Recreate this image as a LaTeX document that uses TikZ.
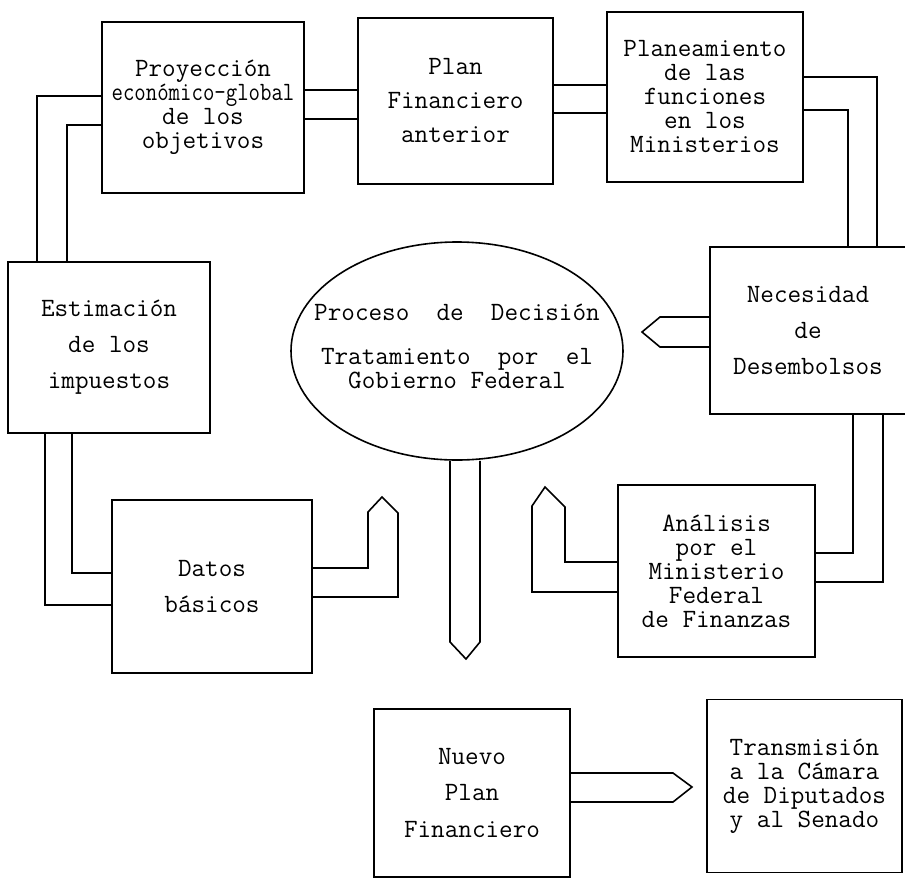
\documentclass[tikz,border=0pt]{standalone}
\usepackage{fontspec}
\usetikzlibrary{shapes.geometric}

\begin{document}
\begin{tikzpicture}[x=0.5pt,y=-0.5pt,thick,font=\ttfamily\fontsize{13.2}{12}\selectfont]
  \tikzstyle{box}=[draw,rectangle,inner sep=0pt,align=center]
  \tikzstyle{blob}=[draw,ellipse,inner sep=0pt]
  \useasboundingbox (0,0) rectangle (905,879);

  \node[box,minimum width=101pt,minimum height=85.5pt] (proy)   at (203,107.5) {Proyección\\\scalebox{.84}[1]{económico-global}\\de los\\objetivos};
  \node[box,minimum width=97.5pt,minimum height=83pt]  (plan)   at (455.5,101) {Plan\\[5pt]Financiero\\[5pt]anterior};
  \node[box,minimum width=98pt,minimum height=85pt]    (planea) at (705,97)    {Planeamiento\\de las\\funciones\\en los\\Ministerios};
  \node[box,minimum width=101pt,minimum height=85.5pt] (estim)  at (109,347.5) {Estimación\\[6pt]de los\\[6pt]impuestos};
  \node[box,minimum width=100pt,minimum height=86.5pt] (datos)  at (212,586.5) {Datos\\[6pt]básicos};
  \node[box,minimum width=98pt,minimum height=83.5pt]  (neces)  at (808,330.5) {Necesidad\\[6pt]de\\[6pt]Desembolsos};
  \node[box,minimum width=98.5pt,minimum height=86pt]  (anal)   at (716.5,571) {Análisis\\por el\\Ministerio\\Federal\\de Finanzas};
  \node[box,minimum width=98pt,minimum height=84pt]    (nuevo)  at (472,793)   {Nuevo\\[6pt]Plan\\[6pt]Financiero};
  \node[box,minimum width=97.5pt,minimum height=86.5pt] (transm) at (804.5,786) {Transmisión\\a la Cámara\\de Diputados\\y al Senado};
  \node[blob,minimum width=166pt,minimum height=109pt] (dec)    at (457,351)   {};
  \node[align=center,inner sep=0pt] (dectext) at (457,346) {Proceso~~de~~Decisión\\[10pt]Tratamiento~~por~~el\\Gobierno Federal};

  % double lines between the boxes
  \draw (proy.east |- 0,90)  -- (plan.west |- 0,90);
  \draw (proy.east |- 0,119) -- (plan.west |- 0,119);
  \draw (plan.east |- 0,85)  -- (planea.west |- 0,85);
  \draw (plan.east |- 0,113) -- (planea.west |- 0,113);
  \draw (planea.east |- 0,77)  -- (877,77)  -- (neces.north -| 877,0);
  \draw (planea.east |- 0,110) -- (848,110) -- (neces.north -| 848,0);
  \draw (proy.west |- 0,96)  -- (37,96)  -- (estim.north -| 37,0);
  \draw (proy.west |- 0,125) -- (67,125) -- (estim.north -| 67,0);
  \draw (estim.south -| 45,0) -- (45,605) -- (datos.west |- 0,605);
  \draw (estim.south -| 72,0) -- (72,573) -- (datos.west |- 0,573);
  \draw (neces.south -| 853,0) -- (853,553) -- (anal.east |- 0,553);
  \draw (neces.south -| 883,0) -- (883,582) -- (anal.east |- 0,582);

  % pipes with a pointed end
  \draw (datos.east |- 0,568) -- (368,568) -- (368,512) -- (382,497) -- (398,513) -- (398,597) -- (datos.east |- 0,597);
  \draw (anal.west |- 0,562) -- (565,562) -- (565,507) -- (545,487) -- (532,506) -- (532,592) -- (anal.west |- 0,592);
  \draw (neces.west |- 0,317) -- (660,317) -- (642,332) -- (660,347) -- (neces.west |- 0,347);
  \draw (dec.south -| 450,0) -- (450,642) -- (466,659) -- (480,642) -- (dec.south -| 480,0);
  \draw (nuevo.east |- 0,773) -- (673,773) -- (692,787) -- (673,802) -- (nuevo.east |- 0,802);
\end{tikzpicture}
\end{document}
